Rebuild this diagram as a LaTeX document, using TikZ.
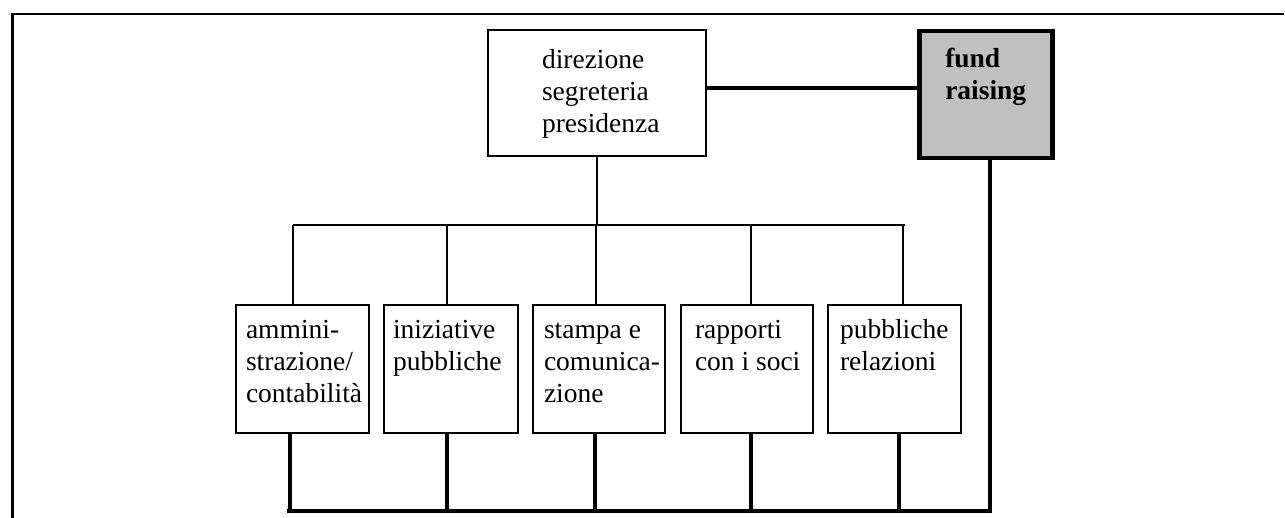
\documentclass[tikz,border=0pt]{standalone}
\usepackage{fontspec}
\setmainfont{Liberation Serif}
\definecolor{frgray}{RGB}{192,192,192}
\newcommand{\bxt}[5]{\parbox[c][#2][t]{#1}{\raggedright\leftskip=#3\relax\vspace*{#4}\strut #5}}
\tikzset{
  box/.style={draw=black, line width=2pt, fill=white, inner sep=0pt, anchor=north west,
    font=\fontsize{27.5}{32}\selectfont},
  frbox/.style={draw=black, line width=4.5pt, fill=frgray, inner sep=0pt, anchor=north west,
    font=\fontsize{27.5}{32}\selectfont\bfseries},
  thinline/.style={draw=black, line width=2pt},
  thickline/.style={draw=black, line width=4.5pt},
  frameline/.style={draw=black, line width=2.2pt}
}
\begin{document}
\begin{tikzpicture}[x=1pt, y=-1pt]
\useasboundingbox (0,0) rectangle (1285,518);
% frame
\draw[frameline] (12.5,518) -- (12.5,14) -- (1284,14);
% top boxes
\node[box] (dir) at (487,29) {\bxt{218pt}{126pt}{54pt}{16.6pt}{direzione\\segreteria\\presidenza}};
\node[frbox] (fr) at (917,29) {\bxt{133pt}{127pt}{26pt}{13.6pt}{fund\\raising}};
% bottom boxes
\node[box] (b1) at (235,304) {\bxt{133pt}{128pt}{10pt}{11.6pt}{ammini-\\strazione/\\contabilità}};
\node[box] (b2) at (383,304) {\bxt{134pt}{128pt}{9pt}{11.6pt}{iniziative\\pubbliche}};
\node[box] (b3) at (532,304) {\bxt{132pt}{128pt}{11pt}{11.6pt}{stampa e\\comunica-\\zione}};
\node[box] (b4) at (680,304) {\bxt{132pt}{128pt}{14pt}{11.6pt}{rapporti\\con i soci}};
\node[box] (b5) at (827,304) {\bxt{133pt}{128pt}{12pt}{11.6pt}{pubbliche\\relazioni}};
% link direzione - fund raising
\coordinate (lk) at (0,88);
\draw[thickline] (dir.east |- lk) -- (fr.west |- lk);
% top bus
\coordinate (t1) at (293,225);
\coordinate (t2) at (447,225);
\coordinate (t3) at (596,225);
\coordinate (t4) at (751,225);
\coordinate (t5) at (903,225);
\draw[thinline] (dir.south) -- (dir.south |- t3);
\draw[thinline] (t1) -- (905,225);
\foreach \i in {1,...,5} {
  \draw[thinline] (t\i) -- (t\i |- b\i.north);
}
% bottom bus
\coordinate (u1) at (290,511);
\coordinate (u2) at (447,511);
\coordinate (u3) at (595,511);
\coordinate (u4) at (751,511);
\coordinate (u5) at (899,511);
\coordinate (corner) at (990,511);
\coordinate (busL) at (287,511);
\foreach \i in {1,...,5} {
  \draw[thickline] (u\i |- b\i.south) -- (u\i);
}
\draw[thickline] (fr.south -| corner) -- (corner) -- (busL);
\end{tikzpicture}
\end{document}
